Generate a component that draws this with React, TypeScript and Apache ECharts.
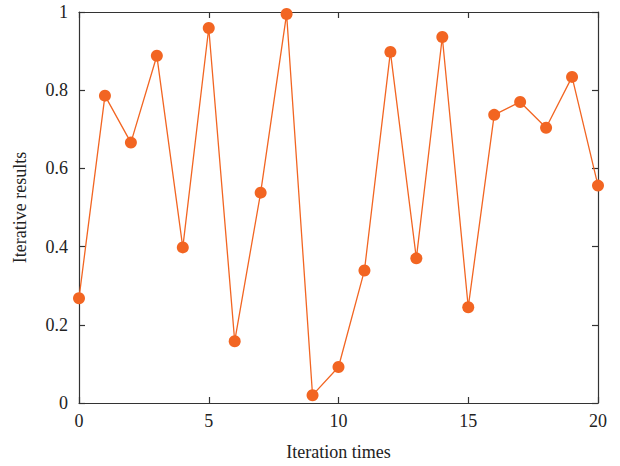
import React, { useEffect, useRef } from "react";
import * as echarts from "echarts";

const iterations = [0, 1, 2, 3, 4, 5, 6, 7, 8, 9, 10, 11, 12, 13, 14, 15, 16, 17, 18, 19, 20];
const results = [0.268, 0.786, 0.666, 0.888, 0.398, 0.959, 0.158, 0.538, 0.995, 0.02, 0.092, 0.339, 0.898, 0.37, 0.936, 0.245, 0.737, 0.77, 0.704, 0.834, 0.556];

const FONT = "'Liberation Serif', 'DejaVu Serif', serif";
const AXIS_COLOR = "#333";
const LINE_COLOR = "#F26522";

export default function App() {
  const ref = useRef<HTMLDivElement>(null);
  useEffect(() => {
    document.body.style.margin = "0";
    const chart = echarts.init(ref.current!, null, { renderer: "svg" });
    const axisLine = { show: true, onZero: false, lineStyle: { color: AXIS_COLOR, width: 1.2 } };
    const tickInside = { show: true, inside: true, length: 6, lineStyle: { color: AXIS_COLOR, width: 1.2 } };
    chart.setOption({
      animation: false,
      backgroundColor: "#fff",
      textStyle: { fontFamily: FONT },
      grid: { left: 79, right: 22, top: 12, bottom: 62 },
      xAxis: [
        {
          type: "value",
          min: 0,
          max: 20,
          interval: 5,
          name: "Iteration times",
          nameLocation: "middle",
          nameGap: 40,
          nameTextStyle: { fontFamily: FONT, fontSize: 18, color: "#222" },
          axisLine,
          axisTick: tickInside,
          axisLabel: { fontFamily: FONT, fontSize: 18, color: "#222", margin: 9 },
          splitLine: { show: false },
        },
        {
          type: "value",
          position: "top",
          min: 0,
          max: 20,
          interval: 5,
          axisLine,
          axisTick: tickInside,
          axisLabel: { show: false },
          splitLine: { show: false },
        },
      ],
      yAxis: [
        {
          type: "value",
          min: 0,
          max: 1,
          interval: 0.2,
          name: "Iterative results",
          nameLocation: "middle",
          nameGap: 50,
          nameTextStyle: { fontFamily: FONT, fontSize: 18, color: "#222" },
          axisLine,
          axisTick: tickInside,
          axisLabel: { fontFamily: FONT, fontSize: 18, color: "#222", margin: 11 },
          splitLine: { show: false },
        },
        {
          type: "value",
          position: "right",
          min: 0,
          max: 1,
          interval: 0.2,
          axisLine,
          axisTick: tickInside,
          axisLabel: { show: false },
          splitLine: { show: false },
        },
      ],
      series: [
        {
          type: "line",
          data: iterations.map((x, i) => [x, results[i]]),
          symbol: "circle",
          symbolSize: 12,
          clip: false,
          lineStyle: { color: LINE_COLOR, width: 1.3 },
          itemStyle: { color: LINE_COLOR },
        },
      ],
    });
    return () => chart.dispose();
  }, []);
  return <div ref={ref} style={{ width: 620, height: 466 }} />;
}
